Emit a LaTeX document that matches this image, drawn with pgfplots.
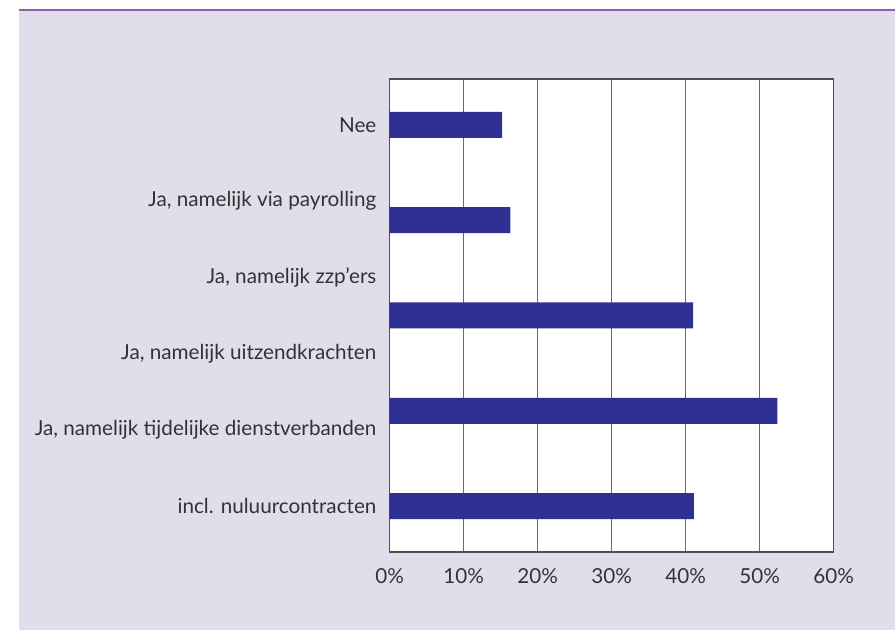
\documentclass[border=0pt]{standalone}
\usepackage{pgfplots}
\pgfplotsset{compat=1.18}
\usepackage{fontspec}
\setmainfont{Lato}
\definecolor{panel}{HTML}{E2DDEB}
\definecolor{topline}{HTML}{8A64A6}
\definecolor{barblue}{HTML}{2E3192}
\definecolor{txt}{HTML}{333333}
\definecolor{gridc}{HTML}{6A6A6A}
\definecolor{axc}{HTML}{4F4F4F}
\begin{document}
\begin{tikzpicture}
\useasboundingbox (0,0) rectangle (671.25pt,472.5pt);
\fill[panel] (14.25pt,0) rectangle (671.25pt,465pt);
\fill[topline] (14.25pt,464.6pt) rectangle (671.25pt,466.1pt);
\begin{axis}[
  at={(292.3pt,58.5pt)}, anchor=south west,
  scale only axis, width=333pt, height=354.75pt,
  xbar, bar width=19.5pt,
  xmin=0, xmax=60, ymin=0.518, ymax=5.482,
  xtick={0,10,20,30,40,50,60},
  xticklabels={0\%,10\%,20\%,30\%,40\%,50\%,60\%},
  ytick={1,1.8,2.6,3.4,4.2,5},
  yticklabels={incl. nuluurcontracten,{Ja, namelijk tijdelijke dienstverbanden},{Ja, namelijk uitzendkrachten},{Ja, namelijk zzp’ers},{Ja, namelijk via payrolling},Nee},
  major tick length=0pt,
  xmajorgrids, major grid style={gridc, line width=1.1pt},
  axis line style={axc, line width=1.1pt},
  axis background/.style={fill=white},
  tick label style={font=\fontsize{15.5}{18}\selectfont, text=txt},
  xticklabel style={yshift=-9pt},
  yticklabel style={xshift=-6.5pt},
]
\addplot[draw=none, fill=barblue] coordinates {(15.2,5) (16.3,4) (41.0,3) (52.4,2) (41.1,1)};
\end{axis}
\end{tikzpicture}
\end{document}
